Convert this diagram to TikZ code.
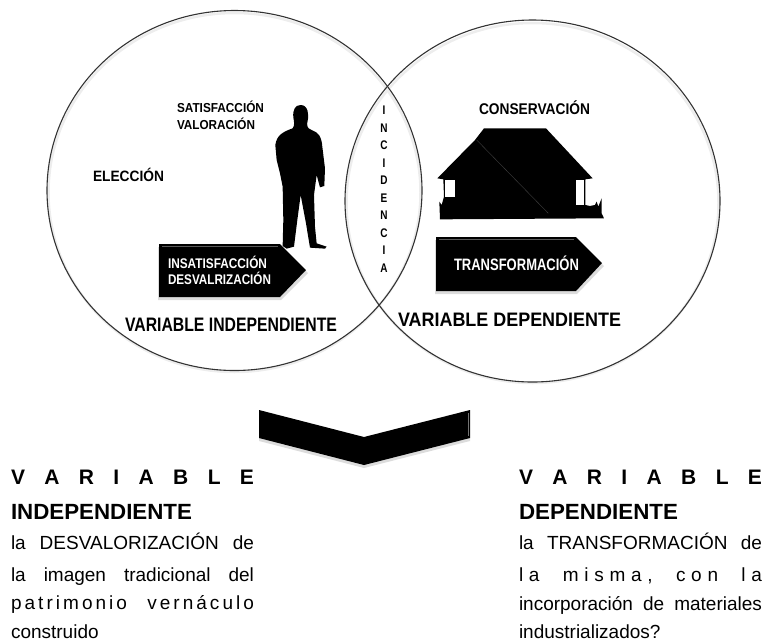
\documentclass[tikz,border=0pt]{standalone}
\usepackage{fontspec}
\usepackage{graphicx}
\usetikzlibrary{shapes.geometric}
\setmainfont{Liberation Sans}
\newcommand{\fitb}[3]{\resizebox{#1pt}{\height}{\fontsize{#2}{#2}\selectfont\bfseries #3}}
\newcommand{\justl}[2]{\hbox to #1pt{\fontsize{19}{19}\selectfont #2}}
\newcommand{\spaced}[1]{\addfontfeature{LetterSpace=#1}}
\newcommand{\ltr}[1]{\scalebox{.8}[1]{#1}}
\definecolor{ring}{gray}{0.2}
\tikzset{
 ringline/.style={draw=ring,line width=1.1pt},
 ringglow/.style={draw=black!7,line width=2.5pt},
 blk/.style={fill=black,draw=none},
 bevelline/.style={draw=black!65,line width=.7pt},
 soft/.style={fill=black!30,draw=none,opacity=.45},
 lbl/.style={inner sep=0pt,outer sep=0pt,text=black,anchor=base west},
 wlbl/.style={lbl,text=white},
 vert/.style={inner sep=0pt,outer sep=0pt,align=center,text width=20pt,anchor=north,font=\fontsize{12.5}{17.5}\selectfont\bfseries}
}
\begin{document}
\begin{tikzpicture}[x=1pt,y=-1pt]
\useasboundingbox (0,0) rectangle (766,641);
% circles
\draw[ringglow] (234.5,192.5) ellipse [x radius=186,y radius=179.5];
\draw[ringglow] (532.5,203) ellipse [x radius=186,y radius=180];
\node[ringline,ellipse,minimum width=375pt,minimum height=360pt,inner sep=0pt] at (234.5,190.5) (left) {};
\node[ringline,ellipse,minimum width=375pt,minimum height=362pt,inner sep=0pt] at (532.5,201) (right) {};
% man
\begin{scope}[shift={(140,80)},x=.3333pt,y=-.3333pt]
\path[blk] (482,75) .. controls (505,75) and (507,105) .. (503,122)
 .. controls (500,135) and (500,145) .. (515,150)
 .. controls (535,157) and (545,170) .. (547,200)
 -- (555,265) -- (553,318) -- (540,322) -- (530,285) -- (522,345)
 -- (525,440) -- (530,490) -- (560,500) -- (555,506) -- (510,503)
 -- (498,430) -- (482,345) -- (472,420) -- (462,500) -- (440,506) -- (428,498)
 -- (430,420) -- (428,320) -- (420,280) -- (410,240) -- (406,195)
 .. controls (410,165) and (430,155) .. (458,145)
 .. controls (465,135) and (462,125) .. (460,112)
 .. controls (458,90) and (465,75) .. (482,75) -- cycle;
\end{scope}
% house
\begin{scope}[shift={(420,90)},x=.3333pt,y=-.3333pt]
\path[blk] (192,115) -- (378,115) -- (518,265) -- (496,268) -- (496,345) -- (510,348) -- (525,345) -- (530,335) -- (535,350) -- (545,325) -- (545,370) -- (552,385)
 -- (60,388) -- (58,335) -- (65,345) -- (72,320) -- (70,268) -- (52,265) -- (165,150) -- cycle;
\path[fill=white] (75,270) rectangle (105,320);
\path[fill=white] (467,270) rectangle (492,345);
\draw[draw=black!75,line width=.4pt] (170,150) -- (385,370);
\end{scope}
% left arrow
\path[soft] (158,247) -- (281,247) -- (308,273) -- (281,300) -- (158,300) -- cycle;
\path[blk] (159,244) -- (280,244) -- (306,270) -- (280,297) -- (159,297) -- cycle;
\draw[bevelline] (162,246.5) -- (278,246.5);
% right arrow
\path[soft] (435,240) -- (577,240) -- (604,266) -- (577,294) -- (435,294) -- cycle;
\path[blk] (436,237) -- (576,237) -- (602,263) -- (576,291) -- (436,291) -- cycle;
\draw[bevelline] (439,239.5) -- (574,239.5);
% chevron
\path[soft] (259,441) -- (364,468) -- (470,441) -- (470,438) -- (259,438) -- cycle;
\path[blk] (259,410) -- (364,437) -- (470,410) -- (470,438) -- (364,465) -- (259,438) -- cycle;
\draw[draw=black!55,line width=.8pt] (468,413) -- (468,436);
% labels
\node[lbl] (sat) at (177,112) {\fitb{87}{13}{SATISFACCIÓN}};
\node[lbl] (val) at (177,129) {\fitb{78}{13}{VALORACIÓN}};
\node[lbl] (ele) at (93,181) {\fitb{71}{15}{ELECCIÓN}};
\node[wlbl] (ins) at (168,268) {\fitb{99}{14}{INSATISFACCIÓN}};
\node[wlbl] (des) at (168,284) {\fitb{103}{14}{DESVALRIZACIÓN}};
\node[lbl] (vi) at (125,331) {\fitb{212}{19.5}{VARIABLE INDEPENDIENTE}};
\node[lbl] (con) at (479,114) {\fitb{111}{15.5}{CONSERVACIÓN}};
\node[wlbl] (tra) at (454,270) {\fitb{125}{16.5}{TRANSFORMACIÓN}};
\node[lbl] (vd) at (398,326) {\fitb{223}{19.5}{VARIABLE DEPENDIENTE}};
\node[vert] (inc) at (384,106) {\ltr{I}\\\ltr{N}\\\ltr{C}\\\ltr{I}\\\ltr{D}\\\ltr{E}\\\ltr{N}\\\ltr{C}\\\ltr{I}\\\ltr{A}};
% left text block
\node[lbl] (l1) at (11,484) {\hbox to 243pt{\fontsize{21}{21}\selectfont\bfseries V\hfill A\hfill R\hfill I\hfill A\hfill B\hfill L\hfill E}};
\node[lbl] (l2) at (11,519) {\fitb{181}{22}{INDEPENDIENTE}};
\node[lbl] (l3) at (11,549) {\justl{243}{la\hfill DESVALORIZACIÓN\hfill de}};
\node[lbl] (l4) at (11,581) {\justl{243}{la\hfill imagen\hfill tradicional\hfill del}};
\node[lbl] (l5) at (11,609) {\justl{243}{\spaced{16}patrimonio\hfill vernáculo}};
\node[lbl] (l6) at (11,638) {\justl{89}{construido\hss}};
% right text block
\node[lbl] (r1) at (519,484) {\hbox to 243pt{\fontsize{21}{21}\selectfont\bfseries V\hfill A\hfill R\hfill I\hfill A\hfill B\hfill L\hfill E}};
\node[lbl] (r2) at (519,519) {\fitb{159}{22}{DEPENDIENTE}};
\node[lbl] (r3) at (519,549) {\justl{243}{la\hfill TRANSFORMACIÓN\hfill de}};
\node[lbl] (r4) at (519,581) {\justl{243}{\spaced{30}la\hfill misma,\hfill con\hfill la}};
\node[lbl] (r5) at (519,610) {\justl{243}{incorporación\hfill de\hfill materiales}};
\node[lbl] (r6) at (519,638) {\justl{143}{industrializados?\hss}};
\end{tikzpicture}
\end{document}
